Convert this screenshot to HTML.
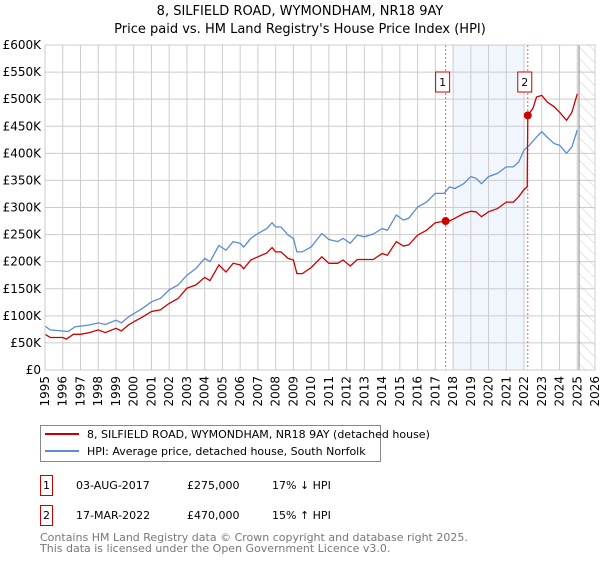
<!DOCTYPE html>
<html><head><meta charset="utf-8"><style>
body{margin:0;background:#fff;font-family:"DejaVu Sans","Liberation Sans",sans-serif;}
svg text{font-family:"DejaVu Sans","Liberation Sans",sans-serif;}
</style></head><body>
<svg id="chart" width="600" height="560" viewBox="0 0 600 560" xmlns="http://www.w3.org/2000/svg">
<text x="300" y="15" text-anchor="middle" font-size="13">8, SILFIELD ROAD, WYMONDHAM, NR18 9AY</text>
<text x="300" y="33" text-anchor="middle" font-size="13">Price paid vs. HM Land Registry's House Price Index (HPI)</text>
<g id="grid"></g>
<g id="marks"></g>
<g id="axes"></g>
<g>
<rect x="40.5" y="425.5" width="340" height="36" fill="#fff" stroke="#888"/>
<line x1="45" y1="434" x2="79" y2="434" stroke="#cc0000" stroke-width="2"/>
<text x="87" y="438" font-size="11">8, SILFIELD ROAD, WYMONDHAM, NR18 9AY (detached house)</text>
<line x1="45" y1="451" x2="79" y2="451" stroke="#5b8bd0" stroke-width="2"/>
<text x="87" y="455" font-size="11">HPI: Average price, detached house, South Norfolk</text>
</g>
<g font-size="11">
<rect x="40.5" y="475.5" width="12" height="20" fill="#fff" stroke="#cc0000"/>
<text x="46.5" y="489" text-anchor="middle">1</text>
<text x="76" y="489">03-AUG-2017</text>
<text x="187" y="489">£275,000</text>
<text x="272" y="489">17% ↓ HPI</text>
<rect x="40.5" y="505.5" width="12" height="20" fill="#fff" stroke="#cc0000"/>
<text x="46.5" y="519" text-anchor="middle">2</text>
<text x="76" y="519">17-MAR-2022</text>
<text x="187" y="519">£470,000</text>
<text x="272" y="519">15% ↑ HPI</text>
</g>
<text x="40" y="541" font-size="11" fill="#777">Contains HM Land Registry data © Crown copyright and database right 2025.</text>
<text x="40" y="552" font-size="11" fill="#777">This data is licensed under the Open Government Licence v3.0.</text>
</svg>
<script>
const hpiYears=[1995,1995.3,1996,1996.3,1996.7,1997,1997.5,1998,1998.4,1999,1999.3,1999.7,2000,2000.5,2001,2001.5,2002,2002.5,2003,2003.5,2004,2004.3,2004.8,2005.2,2005.6,2006,2006.2,2006.6,2007,2007.5,2007.8,2008,2008.3,2008.7,2009,2009.2,2009.5,2010,2010.6,2011,2011.5,2011.8,2012.2,2012.6,2013,2013.5,2014,2014.3,2014.8,2015.2,2015.5,2016,2016.5,2017,2017.5,2017.8,2018.1,2018.6,2019,2019.3,2019.6,2020,2020.5,2021,2021.4,2021.7,2022,2022.3,2022.7,2023,2023.3,2023.7,2024,2024.4,2024.7,2025];
const hpiValues=[81,74,72,71,80,81,83,87,84,92,87,98,104,114,126,132,148,157,175,187,206,200,230,221,237,234,227,243,252,261,272,264,264,249,243,218,218,227,252,241,237,243,234,249,246,251,261,258,286,277,280,301,310,326,326,338,335,344,357,354,344,357,363,375,375,384,406,415,430,440,430,418,415,400,412,443];
const propYears=[1995,1995.3,1996,1996.2,1996.6,1997,1997.5,1998,1998.4,1999,1999.3,1999.7,2000,2000.5,2001,2001.5,2002,2002.5,2003,2003.5,2004,2004.3,2004.8,2005.2,2005.6,2006,2006.2,2006.6,2007,2007.5,2007.8,2008,2008.3,2008.7,2009,2009.2,2009.5,2010,2010.6,2011,2011.5,2011.8,2012.2,2012.6,2013,2013.5,2014,2014.3,2014.8,2015.2,2015.5,2016,2016.5,2017,2017.58,2017.8,2018.1,2018.6,2019,2019.3,2019.6,2020,2020.5,2021,2021.4,2021.7,2022,2022.18,2022.21,2022.5,2022.7,2023,2023.3,2023.7,2024,2024.4,2024.7,2025];
const propValues=[66,60,60,57,66,66,69,74,69,77,72,83,89,98,108,111,123,132,151,157,171,165,194,181,197,194,187,203,209,216,226,218,218,206,203,178,178,189,209,197,197,203,192,204,204,204,215,212,237,229,231,249,258,272,275,275,280,289,293,292,283,292,298,310,310,320,333,338,470,483,504,507,495,486,476,461,476,510];
const saleYears=[2017.58,2022.21];
const saleValues=[275,470];
const saleLabels=["1","2"];
const yTicks=[0,50,100,150,200,250,300,350,400,450,500,550,600];
const yTickLabels=["£0","£50K","£100K","£150K","£200K","£250K","£300K","£350K","£400K","£450K","£500K","£550K","£600K"];
const xTicks=[1995,1996,1997,1998,1999,2000,2001,2002,2003,2004,2005,2006,2007,2008,2009,2010,2011,2012,2013,2014,2015,2016,2017,2018,2019,2020,2021,2022,2023,2024,2025,2026];

const X0=45,X1=595,Y0=370,Y1=45;
const xs=y=>X0+(y-1995)/(2026-1995)*(X1-X0);
const ys=v=>Y0-v/600*(Y0-Y1);
const NS="http://www.w3.org/2000/svg";
function mk(tag,attrs,parent){const e=document.createElementNS(NS,tag);for(const k in attrs)e.setAttribute(k,attrs[k]);parent.appendChild(e);return e;}
const grid=document.getElementById('grid'),marks=document.getElementById('marks'),axes=document.getElementById('axes');

const shade=mk('rect',{x:xs(2018),y:Y1,width:xs(2022)-xs(2018),height:Y0-Y1,fill:'#eef3fc',opacity:0.8},grid);


const defs=mk('defs',{},grid);
const pat=mk('pattern',{id:'hatch',patternUnits:'userSpaceOnUse',width:8,height:8,patternTransform:'rotate(-45)'},defs);
mk('line',{x1:0,y1:0,x2:0,y2:8,stroke:'#ccc','stroke-width':1},pat);
const hatch=mk('rect',{x:xs(2025.1),y:Y1,width:X1-xs(2025.1),height:Y0-Y1,fill:'url(#hatch)'},grid);



yTicks.forEach((t,i)=>{
  const l=mk('line',{x1:X0,x2:X1,y1:ys(t),y2:ys(t),stroke:'#ccc','stroke-width':1},grid);
  
  
  const tx=mk('text',{x:X0-4,y:ys(t)+4,'text-anchor':'end','font-size':12},axes);
  
  
  tx.textContent=yTickLabels[i];
});
xTicks.forEach(t=>{
  const l=mk('line',{x1:xs(t),x2:xs(t),y1:Y1,y2:Y0,stroke:'#ccc','stroke-width':1},grid);
  
  
  const tx=mk('text',{x:0,y:0,'text-anchor':'end','font-size':12,transform:`translate(${xs(t)+4},${Y0+6}) rotate(-90)`},axes);
  
  
  tx.textContent=t;
});
const cur=mk('line',{x1:xs(2025.1),x2:xs(2025.1),y1:Y1,y2:Y0,stroke:'#888','stroke-width':1},grid);



saleYears.forEach((y,i)=>{
  const l=mk('line',{x1:xs(y),x2:xs(y),y1:Y1,y2:Y0,stroke:'#e06060','stroke-width':1,'stroke-dasharray':'2,2'},marks);
  
  
});

function path(xsArr,vs){return xsArr.map((y,i)=>(i?'L':'M')+xs(y).toFixed(1)+','+ys(vs[i]).toFixed(1)).join('');}
const hp=mk('path',{d:path(hpiYears,hpiValues),fill:'none',stroke:'#5b8bd0','stroke-width':1.3},marks);


const pp=mk('path',{d:path(propYears,propValues),fill:'none',stroke:'#cc0000','stroke-width':1.3},marks);



saleYears.forEach((y,i)=>{
  const c=mk('circle',{cx:xs(y),cy:ys(saleValues[i]),r:4,fill:'#cc0000'},marks);
  
  
  const bx=xs(y)-3;
  const r=mk('rect',{x:bx-7,y:72,width:14,height:20,fill:'#fff',stroke:'#cc0000'},marks);
  
  
  const t=mk('text',{x:bx,y:86,'text-anchor':'middle','font-size':11},marks);
  
  
  t.textContent=saleLabels[i];
});
const frame=mk('rect',{x:X0,y:Y1,width:X1-X0,height:Y0-Y1,fill:'none',stroke:'#ccc'},axes);


</script>
</body></html>
